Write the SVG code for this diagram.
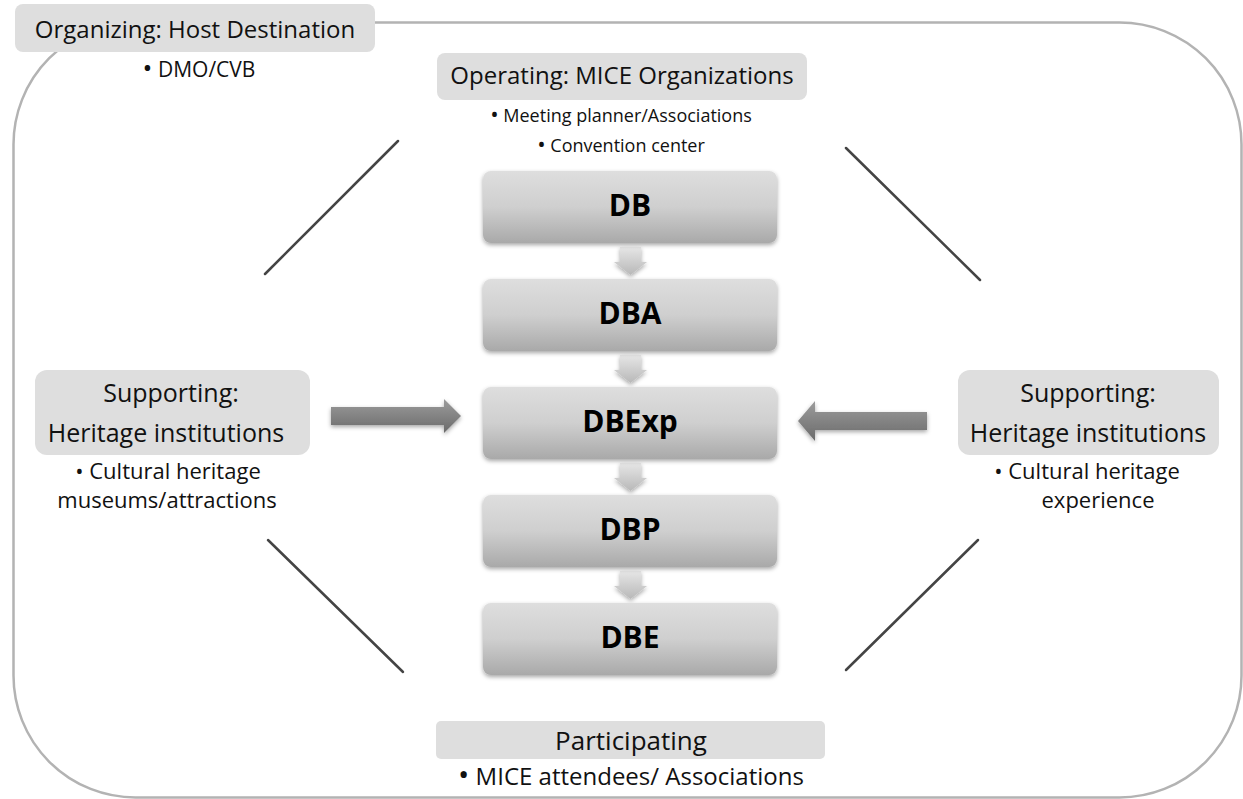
<svg xmlns="http://www.w3.org/2000/svg" width="1243" height="799" viewBox="0 0 1243 799">
<defs>
<linearGradient id="gBox" x1="0" y1="0" x2="0" y2="1">
<stop offset="0" stop-color="#dedede"/>
<stop offset="0.5" stop-color="#cfcfcf"/>
<stop offset="1" stop-color="#a9a9a9"/>
</linearGradient>
<linearGradient id="gSmall" x1="0" y1="0" x2="0" y2="1">
<stop offset="0" stop-color="#e6e6e6"/>
<stop offset="1" stop-color="#b8b8b8"/>
</linearGradient>
<linearGradient id="gBig" x1="0" y1="0" x2="0" y2="1">
<stop offset="0" stop-color="#9c9c9c"/>
<stop offset="1" stop-color="#6a6a6a"/>
</linearGradient>
<filter id="sh" x="-10%" y="-20%" width="120%" height="150%">
<feDropShadow dx="0" dy="2" stdDeviation="2" flood-color="#000" flood-opacity="0.35"/>
</filter>
</defs>
<style>
.lbl{fill:#dedede}
.t{font-family:"Open Sans","Liberation Sans",sans-serif;fill:#111;text-anchor:middle}
.b{font-family:"Open Sans","Liberation Sans",sans-serif;font-weight:bold;fill:#000;text-anchor:middle;font-size:30px}
.bu{font-size:1.25em}
.frame{fill:none;stroke:#b3b3b3;stroke-width:2.5}
.diag{stroke:#444;stroke-width:2.5;stroke-linecap:round}
.box{fill:url(#gBox);filter:url(#sh)}
.sa{fill:url(#gSmall);filter:url(#sh)}
.ba{fill:url(#gBig);filter:url(#sh)}
</style>
<rect class="frame" x="13.5" y="22.5" width="1228" height="775" rx="122" ry="122"/>
<g id="connectors">
<line class="diag" x1="265" y1="274" x2="398" y2="141"/>
<line class="diag" x1="846" y1="148" x2="980" y2="280"/>
<line class="diag" x1="268" y1="540" x2="403" y2="672"/>
<line class="diag" x1="846" y1="670" x2="978" y2="540"/>
<path class="sa" d="M620,247 H641 V262 H647 L630.5,275 L614,262 H620 Z"/>
<path class="sa" d="M620,355 H641 V370 H647 L630.5,383 L614,370 H620 Z"/>
<path class="sa" d="M620,463 H641 V478 H647 L630.5,491 L614,478 H620 Z"/>
<path class="sa" d="M620,571 H641 V586 H647 L630.5,599 L614,586 H620 Z"/>
<path class="ba" d="M331,407 H444 V399 L461,416 L444,433 V425 H331 Z"/>
<path class="ba" d="M927,412 H815 V401 L798,421 L815,441 V430 H927 Z"/>
</g>
<g id="organizing">
<rect class="lbl" x="15" y="4" width="360" height="48" rx="8"/>
<text class="t" x="195" y="38" font-size="24">Organizing: Host Destination</text>
<text class="t" x="199" y="77" font-size="21"><tspan class="bu">•</tspan> DMO/CVB</text>
</g>
<g id="operating">
<rect class="lbl" x="437" y="53" width="370" height="47" rx="8"/>
<text class="t" x="622" y="84" font-size="24">Operating: MICE Organizations</text>
<text class="t" x="621" y="122" font-size="18"><tspan class="bu">•</tspan> Meeting planner/Associations</text>
<text class="t" x="621" y="152" font-size="18"><tspan class="bu">•</tspan> Convention center</text>
</g>
<g id="db">
<rect class="box" x="483" y="171" width="294" height="72" rx="8"/>
<text class="b" x="630" y="216">DB</text>
</g>
<g id="dba">
<rect class="box" x="483" y="279" width="294" height="72" rx="8"/>
<text class="b" x="630" y="324">DBA</text>
</g>
<g id="dbexp">
<rect class="box" x="483" y="387" width="294" height="72" rx="8"/>
<text class="b" x="630" y="432">DBExp</text>
</g>
<g id="dbp">
<rect class="box" x="483" y="495" width="294" height="72" rx="8"/>
<text class="b" x="630" y="540">DBP</text>
</g>
<g id="dbe">
<rect class="box" x="483" y="603" width="294" height="72" rx="8"/>
<text class="b" x="630" y="648">DBE</text>
</g>
<g id="supporting-left">
<rect class="lbl" x="35" y="370" width="275" height="85" rx="12"/>
<text class="t" x="171" y="402" font-size="25">Supporting:</text>
<text class="t" x="166" y="442" font-size="25">Heritage institutions</text>
<text class="t" x="168" y="479" font-size="22">• Cultural heritage</text>
<text class="t" x="167" y="508" font-size="22">museums/attractions</text>
</g>
<g id="supporting-right">
<rect class="lbl" x="958" y="370" width="261" height="85" rx="12"/>
<text class="t" x="1088" y="402" font-size="25">Supporting:</text>
<text class="t" x="1088" y="442" font-size="25">Heritage institutions</text>
<text class="t" x="1087" y="479" font-size="22">• Cultural heritage</text>
<text class="t" x="1098" y="508" font-size="22">experience</text>
</g>
<g id="participating">
<rect class="lbl" x="436" y="721" width="389" height="38" rx="5"/>
<text class="t" x="631" y="750" font-size="26">Participating</text>
<text class="t" x="631" y="785" font-size="24"><tspan class="bu">•</tspan> MICE attendees/ Associations</text>
</g>
</svg>
